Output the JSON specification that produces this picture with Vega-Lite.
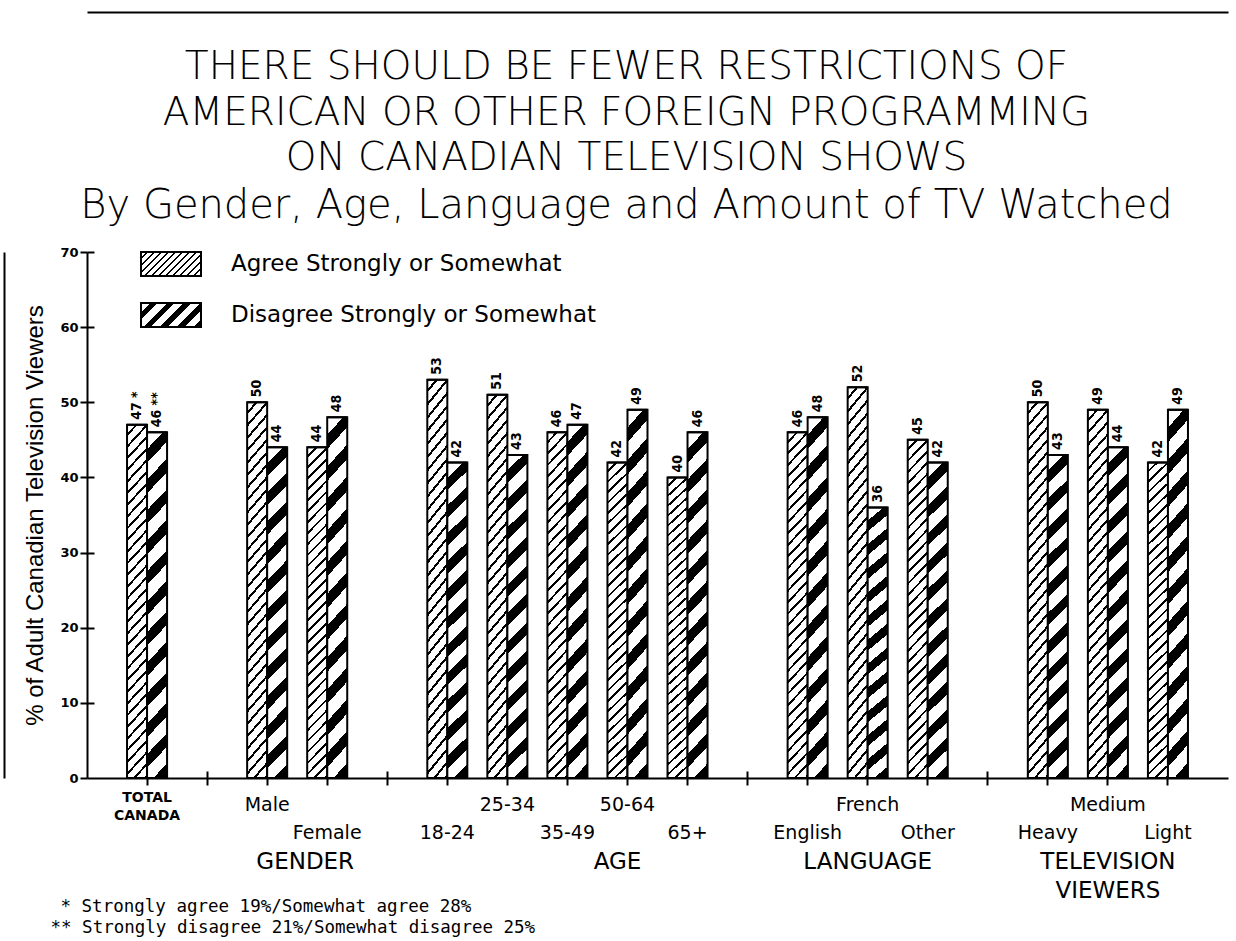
{
  "$schema": "https://vega.github.io/schema/vega-lite/v6.json",
  "width": 1141,
  "height": 526,
  "autosize": {"type": "none"},
  "padding": {"left": 87, "top": 252, "right": 8, "bottom": 163},
  "background": "white",
  "title": {
    "text": ["THERE SHOULD BE FEWER RESTRICTIONS OF", "AMERICAN OR OTHER FOREIGN PROGRAMMING", "ON CANADIAN TELEVISION SHOWS"],
    "subtitle": "By Gender, Age, Language and Amount of TV Watched",
    "anchor": "middle",
    "frame": "group",
    "dx": -31,
    "dy": 234,
    "font": "DejaVu Sans",
    "fontSize": 39,
    "fontWeight": 200,
    "lineHeight": 45.5,
    "color": "#000",
    "subtitleFont": "DejaVu Sans",
    "subtitleFontSize": 40,
    "subtitleFontWeight": 200,
    "subtitleColor": "#000",
    "subtitlePadding": 8,
    "offset": 20
  },
  "data": {
    "values": [
      {"cat": "TOTAL CANADA", "series": "Agree Strongly or Somewhat", "value": 47, "label": "47 *"},
      {"cat": "TOTAL CANADA", "series": "Disagree Strongly or Somewhat", "value": 46, "label": "46 **"},
      {"cat": "Male", "series": "Agree Strongly or Somewhat", "value": 50, "label": "50"},
      {"cat": "Male", "series": "Disagree Strongly or Somewhat", "value": 44, "label": "44"},
      {"cat": "Female", "series": "Agree Strongly or Somewhat", "value": 44, "label": "44"},
      {"cat": "Female", "series": "Disagree Strongly or Somewhat", "value": 48, "label": "48"},
      {"cat": "18-24", "series": "Agree Strongly or Somewhat", "value": 53, "label": "53"},
      {"cat": "18-24", "series": "Disagree Strongly or Somewhat", "value": 42, "label": "42"},
      {"cat": "25-34", "series": "Agree Strongly or Somewhat", "value": 51, "label": "51"},
      {"cat": "25-34", "series": "Disagree Strongly or Somewhat", "value": 43, "label": "43"},
      {"cat": "35-49", "series": "Agree Strongly or Somewhat", "value": 46, "label": "46"},
      {"cat": "35-49", "series": "Disagree Strongly or Somewhat", "value": 47, "label": "47"},
      {"cat": "50-64", "series": "Agree Strongly or Somewhat", "value": 42, "label": "42"},
      {"cat": "50-64", "series": "Disagree Strongly or Somewhat", "value": 49, "label": "49"},
      {"cat": "65+", "series": "Agree Strongly or Somewhat", "value": 40, "label": "40"},
      {"cat": "65+", "series": "Disagree Strongly or Somewhat", "value": 46, "label": "46"},
      {"cat": "English", "series": "Agree Strongly or Somewhat", "value": 46, "label": "46"},
      {"cat": "English", "series": "Disagree Strongly or Somewhat", "value": 48, "label": "48"},
      {"cat": "French", "series": "Agree Strongly or Somewhat", "value": 52, "label": "52"},
      {"cat": "French", "series": "Disagree Strongly or Somewhat", "value": 36, "label": "36"},
      {"cat": "Other", "series": "Agree Strongly or Somewhat", "value": 45, "label": "45"},
      {"cat": "Other", "series": "Disagree Strongly or Somewhat", "value": 42, "label": "42"},
      {"cat": "Heavy", "series": "Agree Strongly or Somewhat", "value": 50, "label": "50"},
      {"cat": "Heavy", "series": "Disagree Strongly or Somewhat", "value": 43, "label": "43"},
      {"cat": "Medium", "series": "Agree Strongly or Somewhat", "value": 49, "label": "49"},
      {"cat": "Medium", "series": "Disagree Strongly or Somewhat", "value": 44, "label": "44"},
      {"cat": "Light", "series": "Agree Strongly or Somewhat", "value": 42, "label": "42"},
      {"cat": "Light", "series": "Disagree Strongly or Somewhat", "value": 49, "label": "49"}
    ]
  },
  "layer": [
    {
      "mark": {"type": "bar", "stroke": "#000", "strokeWidth": 2},
      "encoding": {
        "x": {
          "field": "cat", "type": "nominal", "sort": null,
          "scale": {"domain": ["TOTAL CANADA", "gap1", "Male", "Female", "gap2", "18-24", "25-34", "35-49", "50-64", "65+", "gap3", "English", "French", "Other", "gap4", "Heavy", "Medium", "Light"], "paddingInner": 0.3333, "paddingOuter": 0.6667},
          "axis": {
            "orient": "bottom",
            "title": "* Strongly agree 19%/Somewhat agree 28%",
            "titleX": -27, "titleY": 119, "titleAlign": "left", "titleAnchor": "start", "titleBaseline": "top", "titleAngle": 0,
            "titleFont": "DejaVu Sans Mono", "titleFontSize": 17.5, "titleFontWeight": "normal", "titleColor": "#000",
            "domainColor": "#000", "domainWidth": 2, "tickColor": "#000", "tickWidth": 2, "tickSize": 7,
            "labelExpr": "datum.value === 'TOTAL CANADA' ? ['TOTAL','CANADA'] : indexof(datum.value, 'gap') === 0 ? '' : datum.value",
            "labelAngle": 0, "labelBaseline": "top", "labelAlign": "center",
            "labelFont": "DejaVu Sans", "labelColor": "#000",
            "labelFontSize": {"condition": {"test": "datum.value === 'TOTAL CANADA'", "value": 14}, "value": 19},
            "labelFontWeight": {"condition": {"test": "datum.value === 'TOTAL CANADA'", "value": "bold"}, "value": "normal"},
            "labelPadding": {"condition": [{"test": "indexof(['Female','18-24','35-49','65+','English','Other','Heavy','Light'], datum.value) >= 0", "value": 38}, {"test": "datum.value === 'TOTAL CANADA'", "value": 5}], "value": 10},
            "labelLineHeight": 18,
            "labelOverlap": false, "labelLimit": 0
          }
        },
        "xOffset": {"field": "series", "type": "nominal", "scale": {"domain": ["Agree Strongly or Somewhat", "Disagree Strongly or Somewhat"], "paddingInner": 0, "paddingOuter": 0}},
        "y": {
          "field": "value", "type": "quantitative",
          "scale": {"domain": [0, 70]},
          "title": "% of Adult Canadian Television Viewers",
          "axis": {
            "orient": "left",
            "values": [0, 10, 20, 30, 40, 50, 60, 70], "grid": false,
            "domainColor": "#000", "domainWidth": 2, "tickColor": "#000", "tickWidth": 2, "tickSize": 7,
            "labelFont": "DejaVu Sans", "labelFontSize": 13, "labelFontWeight": "bold", "labelColor": "#000", "labelPadding": 2,
            "titleFont": "Liberation Sans", "titleFontSize": 24, "titleFontWeight": "normal", "titleColor": "#000", "titlePadding": 12
          }
        },
        "fill": {
          "condition": {
            "test": "datum.series === 'Agree Strongly or Somewhat'",
            "value": {"gradient": "linear", "x1": 0, "y1": 0, "x2": 0.065, "y2": 1.055, "stops": [
              {"offset": 0, "color": "#fff"}, {"offset": 0.02344, "color": "#fff"}, {"offset": 0.02344, "color": "#000"}, {"offset": 0.03125, "color": "#000"},
              {"offset": 0.03125, "color": "#fff"}, {"offset": 0.05469, "color": "#fff"}, {"offset": 0.05469, "color": "#000"}, {"offset": 0.0625, "color": "#000"},
              {"offset": 0.0625, "color": "#fff"}, {"offset": 0.08594, "color": "#fff"}, {"offset": 0.08594, "color": "#000"}, {"offset": 0.09375, "color": "#000"},
              {"offset": 0.09375, "color": "#fff"}, {"offset": 0.11719, "color": "#fff"}, {"offset": 0.11719, "color": "#000"}, {"offset": 0.125, "color": "#000"},
              {"offset": 0.125, "color": "#fff"}, {"offset": 0.14844, "color": "#fff"}, {"offset": 0.14844, "color": "#000"}, {"offset": 0.15625, "color": "#000"},
              {"offset": 0.15625, "color": "#fff"}, {"offset": 0.17969, "color": "#fff"}, {"offset": 0.17969, "color": "#000"}, {"offset": 0.1875, "color": "#000"},
              {"offset": 0.1875, "color": "#fff"}, {"offset": 0.21094, "color": "#fff"}, {"offset": 0.21094, "color": "#000"}, {"offset": 0.21875, "color": "#000"},
              {"offset": 0.21875, "color": "#fff"}, {"offset": 0.24219, "color": "#fff"}, {"offset": 0.24219, "color": "#000"}, {"offset": 0.25, "color": "#000"},
              {"offset": 0.25, "color": "#fff"}, {"offset": 0.27344, "color": "#fff"}, {"offset": 0.27344, "color": "#000"}, {"offset": 0.28125, "color": "#000"},
              {"offset": 0.28125, "color": "#fff"}, {"offset": 0.30469, "color": "#fff"}, {"offset": 0.30469, "color": "#000"}, {"offset": 0.3125, "color": "#000"},
              {"offset": 0.3125, "color": "#fff"}, {"offset": 0.33594, "color": "#fff"}, {"offset": 0.33594, "color": "#000"}, {"offset": 0.34375, "color": "#000"},
              {"offset": 0.34375, "color": "#fff"}, {"offset": 0.36719, "color": "#fff"}, {"offset": 0.36719, "color": "#000"}, {"offset": 0.375, "color": "#000"},
              {"offset": 0.375, "color": "#fff"}, {"offset": 0.39844, "color": "#fff"}, {"offset": 0.39844, "color": "#000"}, {"offset": 0.40625, "color": "#000"},
              {"offset": 0.40625, "color": "#fff"}, {"offset": 0.42969, "color": "#fff"}, {"offset": 0.42969, "color": "#000"}, {"offset": 0.4375, "color": "#000"},
              {"offset": 0.4375, "color": "#fff"}, {"offset": 0.46094, "color": "#fff"}, {"offset": 0.46094, "color": "#000"}, {"offset": 0.46875, "color": "#000"},
              {"offset": 0.46875, "color": "#fff"}, {"offset": 0.49219, "color": "#fff"}, {"offset": 0.49219, "color": "#000"}, {"offset": 0.5, "color": "#000"},
              {"offset": 0.5, "color": "#fff"}, {"offset": 0.52344, "color": "#fff"}, {"offset": 0.52344, "color": "#000"}, {"offset": 0.53125, "color": "#000"},
              {"offset": 0.53125, "color": "#fff"}, {"offset": 0.55469, "color": "#fff"}, {"offset": 0.55469, "color": "#000"}, {"offset": 0.5625, "color": "#000"},
              {"offset": 0.5625, "color": "#fff"}, {"offset": 0.58594, "color": "#fff"}, {"offset": 0.58594, "color": "#000"}, {"offset": 0.59375, "color": "#000"},
              {"offset": 0.59375, "color": "#fff"}, {"offset": 0.61719, "color": "#fff"}, {"offset": 0.61719, "color": "#000"}, {"offset": 0.625, "color": "#000"},
              {"offset": 0.625, "color": "#fff"}, {"offset": 0.64844, "color": "#fff"}, {"offset": 0.64844, "color": "#000"}, {"offset": 0.65625, "color": "#000"},
              {"offset": 0.65625, "color": "#fff"}, {"offset": 0.67969, "color": "#fff"}, {"offset": 0.67969, "color": "#000"}, {"offset": 0.6875, "color": "#000"},
              {"offset": 0.6875, "color": "#fff"}, {"offset": 0.71094, "color": "#fff"}, {"offset": 0.71094, "color": "#000"}, {"offset": 0.71875, "color": "#000"},
              {"offset": 0.71875, "color": "#fff"}, {"offset": 0.74219, "color": "#fff"}, {"offset": 0.74219, "color": "#000"}, {"offset": 0.75, "color": "#000"},
              {"offset": 0.75, "color": "#fff"}, {"offset": 0.77344, "color": "#fff"}, {"offset": 0.77344, "color": "#000"}, {"offset": 0.78125, "color": "#000"},
              {"offset": 0.78125, "color": "#fff"}, {"offset": 0.80469, "color": "#fff"}, {"offset": 0.80469, "color": "#000"}, {"offset": 0.8125, "color": "#000"},
              {"offset": 0.8125, "color": "#fff"}, {"offset": 0.83594, "color": "#fff"}, {"offset": 0.83594, "color": "#000"}, {"offset": 0.84375, "color": "#000"},
              {"offset": 0.84375, "color": "#fff"}, {"offset": 0.86719, "color": "#fff"}, {"offset": 0.86719, "color": "#000"}, {"offset": 0.875, "color": "#000"},
              {"offset": 0.875, "color": "#fff"}, {"offset": 0.89844, "color": "#fff"}, {"offset": 0.89844, "color": "#000"}, {"offset": 0.90625, "color": "#000"},
              {"offset": 0.90625, "color": "#fff"}, {"offset": 0.92969, "color": "#fff"}, {"offset": 0.92969, "color": "#000"}, {"offset": 0.9375, "color": "#000"},
              {"offset": 0.9375, "color": "#fff"}, {"offset": 0.96094, "color": "#fff"}, {"offset": 0.96094, "color": "#000"}, {"offset": 0.96875, "color": "#000"},
              {"offset": 0.96875, "color": "#fff"}, {"offset": 0.99219, "color": "#fff"}, {"offset": 0.99219, "color": "#000"}, {"offset": 1, "color": "#000"}
            ]}
          },
          "value": {"gradient": "linear", "x1": 0, "y1": 0, "x2": 0.065, "y2": 1.055, "stops": [
            {"offset": 0, "color": "#fff"}, {"offset": 0.04583, "color": "#fff"}, {"offset": 0.04583, "color": "#000"}, {"offset": 0.08333, "color": "#000"},
            {"offset": 0.08333, "color": "#fff"}, {"offset": 0.12917, "color": "#fff"}, {"offset": 0.12917, "color": "#000"}, {"offset": 0.16667, "color": "#000"},
            {"offset": 0.16667, "color": "#fff"}, {"offset": 0.2125, "color": "#fff"}, {"offset": 0.2125, "color": "#000"}, {"offset": 0.25, "color": "#000"},
            {"offset": 0.25, "color": "#fff"}, {"offset": 0.29583, "color": "#fff"}, {"offset": 0.29583, "color": "#000"}, {"offset": 0.33333, "color": "#000"},
            {"offset": 0.33333, "color": "#fff"}, {"offset": 0.37917, "color": "#fff"}, {"offset": 0.37917, "color": "#000"}, {"offset": 0.41667, "color": "#000"},
            {"offset": 0.41667, "color": "#fff"}, {"offset": 0.4625, "color": "#fff"}, {"offset": 0.4625, "color": "#000"}, {"offset": 0.5, "color": "#000"},
            {"offset": 0.5, "color": "#fff"}, {"offset": 0.54583, "color": "#fff"}, {"offset": 0.54583, "color": "#000"}, {"offset": 0.58333, "color": "#000"},
            {"offset": 0.58333, "color": "#fff"}, {"offset": 0.62917, "color": "#fff"}, {"offset": 0.62917, "color": "#000"}, {"offset": 0.66667, "color": "#000"},
            {"offset": 0.66667, "color": "#fff"}, {"offset": 0.7125, "color": "#fff"}, {"offset": 0.7125, "color": "#000"}, {"offset": 0.75, "color": "#000"},
            {"offset": 0.75, "color": "#fff"}, {"offset": 0.79583, "color": "#fff"}, {"offset": 0.79583, "color": "#000"}, {"offset": 0.83333, "color": "#000"},
            {"offset": 0.83333, "color": "#fff"}, {"offset": 0.87917, "color": "#fff"}, {"offset": 0.87917, "color": "#000"}, {"offset": 0.91667, "color": "#000"},
            {"offset": 0.91667, "color": "#fff"}, {"offset": 0.9625, "color": "#fff"}, {"offset": 0.9625, "color": "#000"}, {"offset": 1, "color": "#000"}
          ]}
        }
      }
    },
    {
      "mark": {"type": "text", "angle": 270, "align": "left", "baseline": "middle", "dx": 5, "font": "Liberation Sans Narrow, DejaVu Sans Condensed, sans-serif", "fontWeight": "bold", "fontSize": 14, "color": "#000"},
      "encoding": {
        "x": {
          "field": "cat", "type": "nominal", "sort": null,
          "scale": {"domain": ["TOTAL CANADA", "gap1", "Male", "Female", "gap2", "18-24", "25-34", "35-49", "50-64", "65+", "gap3", "English", "French", "Other", "gap4", "Heavy", "Medium", "Light"], "paddingInner": 0.3333, "paddingOuter": 0.6667},
          "axis": {
            "orient": "bottom", "domain": false, "ticks": false, "tickSize": 0,
            "labelExpr": "datum.value === 'Female' ? 'GENDER' : datum.value === '50-64' ? 'AGE' : datum.value === 'French' ? 'LANGUAGE' : datum.value === 'Medium' ? ['TELEVISION','VIEWERS'] : ''",
            "labelOffset": {"condition": [{"test": "datum.value === 'Female'", "value": -22}, {"test": "datum.value === '50-64'", "value": -10}], "value": 0},
            "labelPadding": 72, "labelBaseline": "top", "labelAlign": "center", "labelAngle": 0,
            "labelFont": "DejaVu Sans", "labelFontSize": 23, "labelLineHeight": 29, "labelColor": "#000",
            "labelOverlap": false, "labelLimit": 0,
            "title": "** Strongly disagree 21%/Somewhat disagree 25%",
            "titleX": -37, "titleY": 140, "titleAlign": "left", "titleAnchor": "start", "titleBaseline": "top", "titleAngle": 0,
            "titleFont": "DejaVu Sans Mono", "titleFontSize": 17.5, "titleFontWeight": "normal", "titleColor": "#000"
          }
        },
        "xOffset": {"field": "series", "type": "nominal", "scale": {"domain": ["Agree Strongly or Somewhat", "Disagree Strongly or Somewhat"], "paddingInner": 0, "paddingOuter": 0}},
        "y": {"field": "value", "type": "quantitative", "scale": {"domain": [0, 70]}, "axis": null},
        "text": {"field": "label", "type": "nominal"}
      }
    },
    {
      "transform": [{"filter": "datum.series === 'Agree Strongly or Somewhat'"}],
      "mark": {"type": "bar", "strokeWidth": 2, "fill": {"gradient": "linear", "x1": 0, "y1": 0, "x2": 1.207, "y2": 0.4828, "stops": [
        {"offset": 0, "color": "#fff"}, {"offset": 0.0625, "color": "#fff"}, {"offset": 0.0625, "color": "#000"}, {"offset": 0.08333, "color": "#000"},
        {"offset": 0.08333, "color": "#fff"}, {"offset": 0.14583, "color": "#fff"}, {"offset": 0.14583, "color": "#000"}, {"offset": 0.16667, "color": "#000"},
        {"offset": 0.16667, "color": "#fff"}, {"offset": 0.22917, "color": "#fff"}, {"offset": 0.22917, "color": "#000"}, {"offset": 0.25, "color": "#000"},
        {"offset": 0.25, "color": "#fff"}, {"offset": 0.3125, "color": "#fff"}, {"offset": 0.3125, "color": "#000"}, {"offset": 0.33333, "color": "#000"},
        {"offset": 0.33333, "color": "#fff"}, {"offset": 0.39583, "color": "#fff"}, {"offset": 0.39583, "color": "#000"}, {"offset": 0.41667, "color": "#000"},
        {"offset": 0.41667, "color": "#fff"}, {"offset": 0.47917, "color": "#fff"}, {"offset": 0.47917, "color": "#000"}, {"offset": 0.5, "color": "#000"},
        {"offset": 0.5, "color": "#fff"}, {"offset": 0.5625, "color": "#fff"}, {"offset": 0.5625, "color": "#000"}, {"offset": 0.58333, "color": "#000"},
        {"offset": 0.58333, "color": "#fff"}, {"offset": 0.64583, "color": "#fff"}, {"offset": 0.64583, "color": "#000"}, {"offset": 0.66667, "color": "#000"},
        {"offset": 0.66667, "color": "#fff"}, {"offset": 0.72917, "color": "#fff"}, {"offset": 0.72917, "color": "#000"}, {"offset": 0.75, "color": "#000"},
        {"offset": 0.75, "color": "#fff"}, {"offset": 0.8125, "color": "#fff"}, {"offset": 0.8125, "color": "#000"}, {"offset": 0.83333, "color": "#000"},
        {"offset": 0.83333, "color": "#fff"}, {"offset": 0.89583, "color": "#fff"}, {"offset": 0.89583, "color": "#000"}, {"offset": 0.91667, "color": "#000"},
        {"offset": 0.91667, "color": "#fff"}, {"offset": 0.97917, "color": "#fff"}, {"offset": 0.97917, "color": "#000"}, {"offset": 1, "color": "#000"}
      ]}},
      "encoding": {
        "x": {
          "field": "cat", "type": "nominal", "sort": null,
          "scale": {"domain": ["TOTAL CANADA", "gap1", "Male", "Female", "gap2", "18-24", "25-34", "35-49", "50-64", "65+", "gap3", "English", "French", "Other", "gap4", "Heavy", "Medium", "Light"], "paddingInner": 0.3333, "paddingOuter": 0.6667},
          "title": null,
          "axis": {"orient": "top", "offset": 240, "domain": true, "domainColor": "#000", "domainWidth": 2, "ticks": false, "labels": false, "grid": false, "title": null}
        },
        "xOffset": {"field": "series", "type": "nominal", "scale": {"domain": ["Agree Strongly or Somewhat", "Disagree Strongly or Somewhat"], "paddingInner": 0, "paddingOuter": 0}},
        "y": {
          "field": "value", "type": "quantitative",
          "scale": {"domain": [0, 70]},
          "title": null,
          "axis": {"orient": "left", "offset": 83, "domain": true, "domainColor": "#000", "domainWidth": 2, "ticks": false, "labels": false, "grid": false, "title": null}
        },
        "y2": {"field": "value"},
        "stroke": {
          "field": "series", "type": "nominal",
          "scale": {"range": ["#000"]},
          "legend": {
            "title": null, "orient": "none", "legendX": 68, "legendY": -4,
            "symbolType": "M-2,-0.8H2V0.8H-2Z", "symbolSize": 900, "symbolStrokeWidth": 2,
            "labelFont": "DejaVu Sans", "labelFontSize": 23, "labelColor": "#000", "labelOffset": 44, "labelLimit": 0, "padding": 0
          }
        }
      }
    },
    {
      "transform": [{"filter": "datum.series === 'Disagree Strongly or Somewhat'"}],
      "mark": {"type": "bar", "strokeWidth": 2, "fill": {"gradient": "linear", "x1": 0, "y1": 0, "x2": 1.207, "y2": 0.4828, "stops": [
        {"offset": 0, "color": "#fff"}, {"offset": 0.11, "color": "#fff"}, {"offset": 0.11, "color": "#000"}, {"offset": 0.2, "color": "#000"},
        {"offset": 0.2, "color": "#fff"}, {"offset": 0.31, "color": "#fff"}, {"offset": 0.31, "color": "#000"}, {"offset": 0.4, "color": "#000"},
        {"offset": 0.4, "color": "#fff"}, {"offset": 0.51, "color": "#fff"}, {"offset": 0.51, "color": "#000"}, {"offset": 0.6, "color": "#000"},
        {"offset": 0.6, "color": "#fff"}, {"offset": 0.71, "color": "#fff"}, {"offset": 0.71, "color": "#000"}, {"offset": 0.8, "color": "#000"},
        {"offset": 0.8, "color": "#fff"}, {"offset": 0.91, "color": "#fff"}, {"offset": 0.91, "color": "#000"}, {"offset": 1, "color": "#000"}
      ]}},
      "encoding": {
        "x": {
          "field": "cat", "type": "nominal", "sort": null,
          "scale": {"domain": ["TOTAL CANADA", "gap1", "Male", "Female", "gap2", "18-24", "25-34", "35-49", "50-64", "65+", "gap3", "English", "French", "Other", "gap4", "Heavy", "Medium", "Light"], "paddingInner": 0.3333, "paddingOuter": 0.6667},
          "title": null,
          "axis": {"orient": "bottom", "offset": -7, "values": ["gap1", "gap2", "gap3", "gap4"], "domain": false, "labels": false, "ticks": true, "tickSize": 7, "tickWidth": 2, "tickColor": "#000", "grid": false, "title": null}
        },
        "xOffset": {"field": "series", "type": "nominal", "scale": {"domain": ["Agree Strongly or Somewhat", "Disagree Strongly or Somewhat"], "paddingInner": 0, "paddingOuter": 0}},
        "y": {
          "field": "value", "type": "quantitative",
          "scale": {"domain": [0, 70]},
          "title": null,
          "axis": {"orient": "left", "offset": -7, "values": [10, 20, 30, 40, 50, 60, 70], "domain": false, "labels": false, "ticks": true, "tickSize": 7, "tickWidth": 2, "tickColor": "#000", "grid": false, "title": null}
        },
        "y2": {"field": "value"},
        "stroke": {
          "field": "series", "type": "nominal",
          "scale": {"range": ["#000"]},
          "legend": {
            "title": null, "orient": "none", "legendX": 68, "legendY": 47,
            "symbolType": "M-2,-0.8H2V0.8H-2Z", "symbolSize": 900, "symbolStrokeWidth": 2,
            "labelFont": "DejaVu Sans", "labelFontSize": 23, "labelColor": "#000", "labelOffset": 44, "labelLimit": 0, "padding": 0
          }
        }
      }
    }
  ],
  "resolve": {"axis": {"x": "independent", "y": "independent"}, "scale": {"stroke": "independent"}, "legend": {"stroke": "independent"}},
  "config": {"view": {"stroke": null}}
}
